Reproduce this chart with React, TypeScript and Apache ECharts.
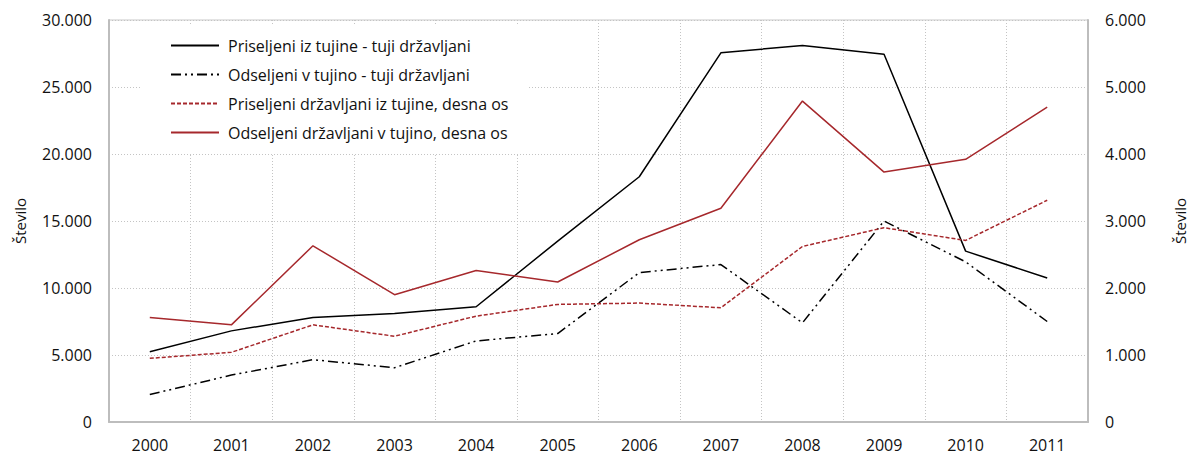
import React, { useEffect, useRef } from "react";
import * as echarts from "echarts";

const years = ["2000", "2001", "2002", "2003", "2004", "2005", "2006", "2007", "2008", "2009", "2010", "2011"];
const immigForeign = [5250, 6800, 7800, 8100, 8600, 13500, 18300, 27550, 28100, 27450, 12750, 10750];
const emigForeign = [2050, 3500, 4650, 4050, 6050, 6600, 11150, 11750, 7400, 15000, 11950, 7500];
const immigCitizens = [950, 1040, 1450, 1280, 1580, 1755, 1775, 1705, 2620, 2900, 2710, 3310];
const emigCitizens = [1560, 1450, 2630, 1900, 2260, 2090, 2720, 3190, 4790, 3730, 3920, 4700];

const seriesNames = [
  "Priseljeni iz tujine - tuji državljani",
  "Odseljeni v tujino - tuji državljani",
  "Priseljeni državljani iz tujine, desna os",
  "Odseljeni državljani v tujino, desna os",
];

const FONT = "'Open Sans', sans-serif";
const RED = "#a6282c";
const fmt = (v: number) => String(v).replace(/\B(?=(\d{3})+(?!\d))/g, ".");

export default function App() {
  const ref = useRef<HTMLDivElement>(null);
  useEffect(() => {
    if (!ref.current) return;
    const chart = echarts.init(ref.current, undefined, { renderer: "svg" });
    chart.setOption({
      animation: false,
      backgroundColor: "#fff",
      textStyle: { fontFamily: FONT },
      grid: {
        left: 109,
        right: 110,
        top: 20,
        bottom: 34,
        show: true,
        borderColor: "#c8c8c8",
        borderWidth: 1,
      },
      legend: {
        orient: "vertical",
        left: 140,
        top: 25,
        padding: [12, 20, 12, 30],
        backgroundColor: "#fff",
        itemWidth: 48,
        itemHeight: 14,
        itemGap: 12,
        itemStyle: { opacity: 0 },
        textStyle: { fontFamily: FONT, fontSize: 16, lineHeight: 17, color: "#111", padding: [0, 0, 0, 4] },
        data: seriesNames,
      },
      xAxis: {
        type: "category",
        data: years,
        boundaryGap: true,
        axisLine: { show: true, lineStyle: { color: "#bdbdbd", width: 2 } },
        axisTick: { show: false },
        axisLabel: { fontFamily: FONT, fontSize: 16, color: "#111", margin: 15 },
        splitLine: { show: true, lineStyle: { color: "#c4c4c4", type: [1, 2], width: 1 } },
      },
      yAxis: [
        {
          type: "value",
          min: 0,
          max: 30000,
          interval: 5000,
          name: "Število",
          nameLocation: "middle",
          nameGap: 82,
          nameRotate: 90,
          nameTextStyle: { fontFamily: FONT, fontSize: 15, color: "#111" },
          axisLine: { show: true, lineStyle: { color: "#bdbdbd", width: 2 } },
          axisTick: { show: false },
          axisLabel: { fontFamily: FONT, fontSize: 16, color: "#111", margin: 17, formatter: fmt },
          splitLine: { show: true, lineStyle: { color: "#c4c4c4", type: [1, 2], width: 1 } },
        },
        {
          type: "value",
          min: 0,
          max: 6000,
          interval: 1000,
          name: "Število",
          nameLocation: "middle",
          nameGap: 84,
          nameRotate: 90,
          nameTextStyle: { fontFamily: FONT, fontSize: 15, color: "#111" },
          axisLine: { show: true, lineStyle: { color: "#bdbdbd", width: 2 } },
          axisTick: { show: false },
          axisLabel: { fontFamily: FONT, fontSize: 16, color: "#111", margin: 17, formatter: fmt },
          splitLine: { show: false },
        },
      ],
      series: [
        {
          name: seriesNames[0],
          type: "line",
          yAxisIndex: 0,
          data: immigForeign,
          symbol: "none",
          itemStyle: { color: "#000" },
          lineStyle: { color: "#000", width: 1.5 },
        },
        {
          name: seriesNames[1],
          type: "line",
          yAxisIndex: 0,
          data: emigForeign,
          symbol: "none",
          itemStyle: { color: "#000" },
          lineStyle: { color: "#000", width: 1.5, type: [10, 4, 2, 4, 2, 4] },
        },
        {
          name: seriesNames[2],
          type: "line",
          yAxisIndex: 1,
          data: immigCitizens,
          symbol: "none",
          itemStyle: { color: RED },
          lineStyle: { color: RED, width: 1.5, type: [4, 2] },
        },
        {
          name: seriesNames[3],
          type: "line",
          yAxisIndex: 1,
          data: emigCitizens,
          symbol: "none",
          itemStyle: { color: RED },
          lineStyle: { color: RED, width: 1.5 },
        },
      ],
    });
    return () => chart.dispose();
  }, []);
  return (
    <div
      ref={ref}
      style={{ position: "fixed", left: 0, top: 0, width: 1198, height: 456 }}
    />
  );
}
